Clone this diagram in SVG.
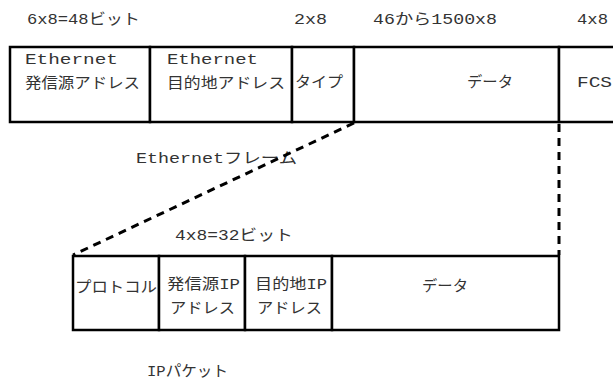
<svg xmlns="http://www.w3.org/2000/svg" width="613" height="380" viewBox="0 0 613 380">
<style>
.cell{fill:#fff;stroke:#000;stroke-width:2.5}
.t{font-family:"Liberation Mono","Noto Sans CJK JP",monospace;font-size:15px;fill:#333}
.conn{fill:none;stroke:#000;stroke-width:3;stroke-dasharray:8 6}
</style>
<rect width="613" height="380" fill="#fff"/>
<g id="labels">
<text class="t" x="27" y="24" textLength="113" lengthAdjust="spacingAndGlyphs">6x8=48ビット</text>
<text class="t" x="294" y="24" textLength="33" lengthAdjust="spacingAndGlyphs">2x8</text>
<text class="t" x="373" y="24" textLength="124" lengthAdjust="spacingAndGlyphs">46から1500x8</text>
<text class="t" x="577" y="24" textLength="31" lengthAdjust="spacingAndGlyphs">4x8</text>
<text class="t" x="136" y="163" textLength="161" lengthAdjust="spacingAndGlyphs">Ethernetフレーム</text>
<text class="t" x="175" y="240" textLength="118" lengthAdjust="spacingAndGlyphs">4x8=32ビット</text>
<text class="t" x="147" y="376" textLength="81" lengthAdjust="spacingAndGlyphs">IPパケット</text>
</g>
<g id="eth-src">
<rect class="cell" x="10" y="47" width="140" height="75"/>
<text class="t" x="25" y="64" textLength="93" lengthAdjust="spacingAndGlyphs">Ethernet</text>
<text class="t" x="25" y="88" textLength="115" lengthAdjust="spacingAndGlyphs">発信源アドレス</text>
</g>
<g id="eth-dst">
<rect class="cell" x="150" y="47" width="142" height="75"/>
<text class="t" x="167" y="64" textLength="91" lengthAdjust="spacingAndGlyphs">Ethernet</text>
<text class="t" x="167" y="88" textLength="118" lengthAdjust="spacingAndGlyphs">目的地アドレス</text>
</g>
<g id="eth-type">
<rect class="cell" x="292" y="47" width="62" height="75"/>
<text class="t" x="295" y="87" textLength="48" lengthAdjust="spacingAndGlyphs">タイプ</text>
</g>
<g id="eth-data">
<rect class="cell" x="354" y="47" width="205" height="75"/>
<text class="t" x="467" y="87" textLength="46" lengthAdjust="spacingAndGlyphs">データ</text>
</g>
<g id="eth-fcs">
<path class="cell" d="M614,47 H559 V122 H614"/>
<text class="t" x="577" y="87" textLength="35" lengthAdjust="spacingAndGlyphs">FCS</text>
</g>
<g id="ip-proto">
<rect class="cell" x="73" y="256" width="86" height="74"/>
<text class="t" x="75" y="292" textLength="82" lengthAdjust="spacingAndGlyphs">プロトコル</text>
</g>
<g id="ip-src">
<rect class="cell" x="159" y="256" width="86" height="74"/>
<text class="t" x="167" y="289" textLength="73" lengthAdjust="spacingAndGlyphs">発信源IP</text>
<text class="t" x="170" y="313" textLength="65" lengthAdjust="spacingAndGlyphs">アドレス</text>
</g>
<g id="ip-dst">
<rect class="cell" x="245" y="256" width="87" height="74"/>
<text class="t" x="255" y="289" textLength="72" lengthAdjust="spacingAndGlyphs">目的地IP</text>
<text class="t" x="257" y="313" textLength="65" lengthAdjust="spacingAndGlyphs">アドレス</text>
</g>
<g id="ip-data">
<rect class="cell" x="332" y="256" width="227" height="74"/>
<text class="t" x="422" y="291" textLength="46" lengthAdjust="spacingAndGlyphs">データ</text>
</g>
<g id="connectors">
<line class="conn" x1="354" y1="123" x2="73" y2="255"/>
<line class="conn" x1="559" y1="124" x2="559" y2="255"/>
</g>
</svg>
